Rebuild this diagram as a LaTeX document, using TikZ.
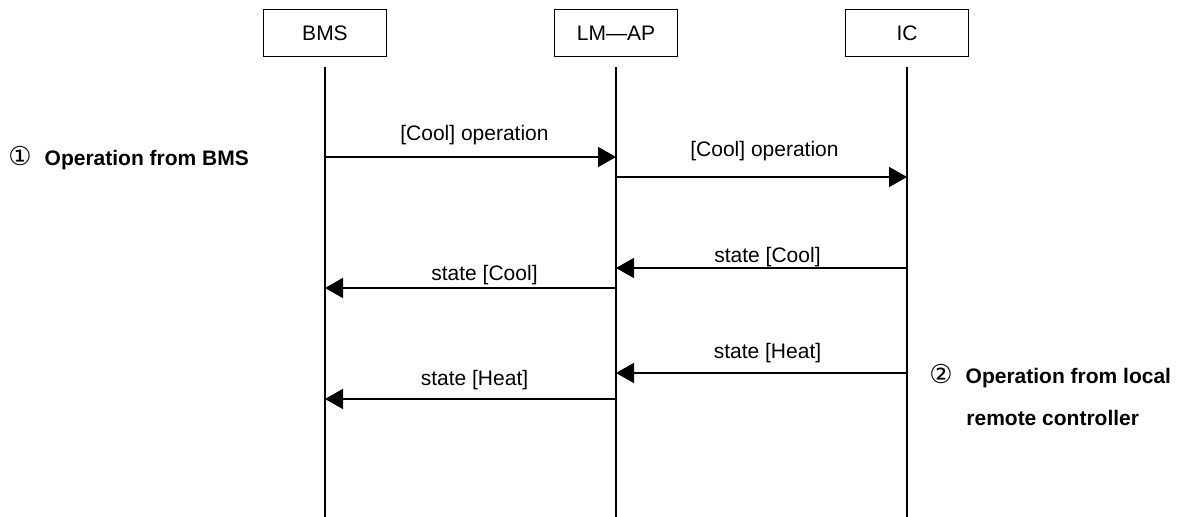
\documentclass[tikz,border=0pt]{standalone}
\usepackage{fontspec}
\setmainfont{Liberation Sans}
\newfontfamily\circfont{DejaVu Sans}
\usetikzlibrary{arrows.meta,positioning}
\newcommand{\diagfont}{\fontsize{10.5}{12.6}\selectfont}
\newcommand{\circnum}[1]{{\circfont\mdseries\fontsize{13}{13}\selectfont #1}\hspace{6.5pt}}
\tikzstyle{actor} = [draw, rectangle, line width=0.8pt, minimum width=61.5pt,
    minimum height=23.5pt, node distance=145.5pt]
\tikzstyle{lifeline} = [line width=0.8pt]
\tikzstyle{msg} = [-{Triangle[length=9pt,width=10pt]}, line width=0.8pt]
\tikzstyle{note} = [font=\diagfont\bfseries, anchor=west, inner sep=0pt]

\begin{document}
\begin{tikzpicture}[x=0.5pt, y=-0.5pt, font=\diagfont]
  \useasboundingbox (0,0) rectangle (1180,517);
  % participants
  \node [actor] (bms) at (325,33) {BMS};
  \node [actor, right of=bms] (lmap) {LM—AP};
  \node [actor, right of=lmap] (ic) {IC};
  % lifelines
  \coordinate (bmsend) at (bms |- 0,517);
  \coordinate (lmapend) at (lmap |- 0,517);
  \coordinate (icend) at (ic |- 0,517);
  \draw [lifeline] ([yshift=-5pt]bms.south) -- (bmsend);
  \draw [lifeline] ([yshift=-5pt]lmap.south) -- (lmapend);
  \draw [lifeline] ([yshift=-5pt]ic.south) -- (icend);
  % message points
  \coordinate (m1a) at (bms |- 0,157);
  \coordinate (m1b) at (lmap |- 0,157);
  \coordinate (m2a) at (lmap |- 0,177);
  \coordinate (m2b) at (ic |- 0,177);
  \coordinate (m3a) at (ic |- 0,268);
  \coordinate (m3b) at (lmap |- 0,268);
  \coordinate (m4a) at (lmap |- 0,288);
  \coordinate (m4b) at (bms |- 0,288);
  \coordinate (m5a) at (ic |- 0,373);
  \coordinate (m5b) at (lmap |- 0,373);
  \coordinate (m6a) at (lmap |- 0,399);
  \coordinate (m6b) at (bms |- 0,399);
  % messages
  \draw [msg] (m1a) -- (m1b) node [midway, xshift=2pt, yshift=11pt] {[Cool] operation};
  \draw [msg] (m2a) -- (m2b) node [midway, xshift=1.5pt, yshift=13pt] {[Cool] operation};
  \draw [msg] (m3a) -- (m3b) node [midway, xshift=3pt, yshift=5.5pt] {state [Cool]};
  \draw [msg] (m4a) -- (m4b) node [midway, xshift=7pt, yshift=6.5pt] {state [Cool]};
  \draw [msg] (m5a) -- (m5b) node [midway, xshift=3pt, yshift=10pt] {state [Heat]};
  \draw [msg] (m6a) -- (m6b) node [midway, xshift=2pt, yshift=9.5pt] {state [Heat]};
  % notes
  \node [note] (n1) at (8,158) {\circnum{①}Operation from BMS};
  \node [note] (n2) at (929,376) {\circnum{②}Operation from local};
  \node [note] (n3) at (966,418) {remote controller};
\end{tikzpicture}
\end{document}
